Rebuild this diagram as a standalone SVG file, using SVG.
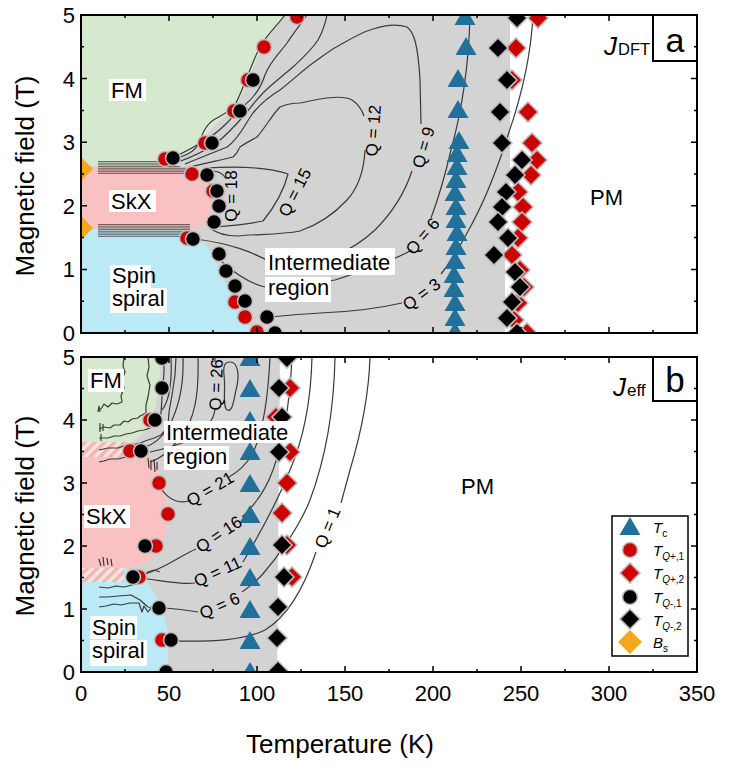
<svg xmlns="http://www.w3.org/2000/svg" width="747" height="779" viewBox="0 0 747 779">
<style>
text{font-family:"Liberation Sans",Arial,Helvetica,sans-serif;fill:#000}
.tk{font-size:22px}
.ttl{font-size:26px}
.lab{font-size:22px}
.q{font-size:17px;text-anchor:middle}
.ct{fill:none;stroke:#3a3a3a;stroke-width:1.2;stroke-linejoin:round}
.bd{fill:none;stroke:#4a4a4a;stroke-width:0.8}
.bx{fill:#fff}
.frame{fill:none;stroke:#000;stroke-width:2}
.tick{fill:none;stroke:#000;stroke-width:1.5}
.cr{fill:#cc0000;stroke:#bdbdbd;stroke-width:1.6}
.cb{fill:#000;stroke:#bdbdbd;stroke-width:1.6}
.tri{fill:#21709a}
.bs{fill:#f5a81c}
.gr{fill:#d3d3d3}
.fm{fill:#d6e9cf}
.sk{fill:#f9c1c1}
.sp{fill:#bce9f6}
</style>
<defs>
<circle id="c" r="7.5"/>
<path id="d" d="M0,-10L10,0L0,10L-10,0Z"/>
<path id="t" d="M0,-10L10.5,8L-10.5,8Z"/>
<clipPath id="ca"><rect x="81" y="15" width="616" height="318"/></clipPath>
<clipPath id="cbp"><rect x="81" y="357" width="616" height="315"/></clipPath>
<pattern id="h" width="7" height="7" patternUnits="userSpaceOnUse" patternTransform="rotate(45)"><rect width="7" height="7" fill="#f3e6e2"/><rect width="3.5" height="7" fill="#f6b3b3"/></pattern>
</defs>

<!-- ================= PANEL A ================= -->
<g id="panel-a-regions" clip-path="url(#ca)">
<path class="gr" d="M81,15 L510,15 L510,188 L505,188 L505,333 L81,333 Z"/>
<path id="a-fm" class="fm" d="M81,15 L284,15 C275,30 266,40 261,50 C253,66 246,88 238,102 C230,114 220,120 212,128 C204,138 198,148 185,156 C175,162 165,164 150,166 L81,166 Z"/>
<path id="a-skx" class="sk" d="M81,167 L172,167 C192,168 205,173 210,183 C214,196 214,212 208,222 C200,228 190,229 172,229 L81,229 Z"/>
<path id="a-spiral" class="sp" d="M81,229 L182,229 C196,233 206,243 213,256 C220,272 228,290 238,305 C244,316 248,325 252,333 L81,333 Z"/>
</g>

<g id="connectors-a" clip-path="url(#ca)">
<path class="ct" d="M533,15 C531,55 522,95 508,135 C497,170 483,205 467,233 C458,250 450,263 441,274 M402,303 C380,308 350,312 320,313 C300,314 283,316 268,317"/>
<path class="ct" d="M470,15 C469,60 462,110 451,150 C444,180 437,202 431,218 M412,250 C390,262 360,272 335,280 L300,285 L265,287 C252,284 238,276 222,262"/>
<path class="ct" d="M185,164 C200,158 215,152 227,147 C240,138 246,122 253,113 C262,102 270,96 280,90 C293,80 303,70 313,63 C323,56 330,50 340,45 C352,38 362,32 373,29 C385,25 398,24 407,27 C414,32 418,45 420,80 L421,124 M412,171 C405,192 392,213 375,230 C360,244 345,252 330,258 L267,260 C258,256 240,245 196,239"/>
<path class="ct" d="M190,167 C205,163 222,160 233,157 C238,153 238,150 240,147 C247,142 252,140 257,137 C265,128 272,115 280,107 C287,104 293,103 300,103 C310,101 318,99 327,98 C335,97 345,96 352,100 C358,104 362,110 364,116 M365,150 C364,170 358,188 347,200 C335,213 320,224 300,231 C280,235 255,234 238,236 C225,236 215,232 210,228"/>
<path class="ct" d="M206,168 C240,166 268,167 288,174 C284,190 276,205 263,221 C248,224 230,226 214,227"/>
<path class="ct" d="M212,171 C218,171 223,173 226,179"/>
<path class="ct" d="M285,15 C275,28 265,37 260,47 C252,62 245,85 236,103 C230,112 222,115 215,119 C205,125 202,135 199,143 C195,152 185,157 168,160"/>
<path class="ct" d="M307,15 C300,25 292,35 287,43 C278,55 270,62 265,75 C260,90 252,100 242,107 C235,113 232,118 227,123 C218,132 210,138 200,143 C190,150 180,154 168,160"/>
<path class="ct" d="M327,15 C325,25 322,33 318,40 C310,52 300,60 293,67 C280,78 270,86 263,93 C253,103 247,113 240,120 C230,131 222,140 213,145 C203,152 192,157 178,162"/>
<path class="bd" d="M98,161.5H168 M98,163.2H172 M98,164.9H176 M98,166.6H180 M98,168.3H186 M98,170H190 M98,171.7H195 M98,173.4H200"/>
<path class="bd" d="M98,224.5H190 M98,226.2H190 M98,227.9H190 M98,229.6H190 M98,231.3H192 M98,233H192 M98,234.7H192 M98,236.4H192"/>
</g>

<g id="markers-a" clip-path="url(#ca)">
<g class="cr">
<use href="#d" x="538" y="18"/><use href="#d" x="516" y="48"/><use href="#d" x="512" y="80"/><use href="#d" x="528" y="112"/><use href="#d" x="532" y="143"/><use href="#d" x="537" y="160"/><use href="#d" x="531" y="175"/><use href="#d" x="518" y="192"/><use href="#d" x="523" y="207"/><use href="#d" x="522" y="222"/><use href="#d" x="518" y="238"/><use href="#d" x="512" y="255"/><use href="#d" x="520" y="270"/><use href="#d" x="524" y="287"/><use href="#d" x="518" y="303"/><use href="#d" x="514" y="320"/><use href="#d" x="527" y="333"/>
</g>
<g class="cb">
<use href="#d" x="517" y="18"/><use href="#d" x="498" y="48"/><use href="#d" x="507" y="80"/><use href="#d" x="500" y="112"/><use href="#d" x="502" y="143"/><use href="#d" x="522" y="160"/><use href="#d" x="515" y="175"/><use href="#d" x="506" y="192"/><use href="#d" x="502" y="207"/><use href="#d" x="498" y="222"/><use href="#d" x="508" y="238"/><use href="#d" x="494" y="255"/><use href="#d" x="515" y="272"/><use href="#d" x="520" y="287"/><use href="#d" x="512" y="302"/><use href="#d" x="507" y="318"/><use href="#d" x="517" y="333"/>
</g>
<g class="cr">
<use href="#c" x="297" y="17"/><use href="#c" x="264" y="47"/><use href="#c" x="248" y="80"/><use href="#c" x="234" y="111"/><use href="#c" x="205" y="143"/><use href="#c" x="165" y="159"/><use href="#c" x="192" y="174"/><use href="#c" x="213" y="191"/><use href="#c" x="187" y="238"/><use href="#c" x="235" y="302"/><use href="#c" x="245" y="317"/><use href="#c" x="257" y="332"/>
</g>
<g class="cb">
<use href="#c" x="253" y="80"/><use href="#c" x="240" y="111"/><use href="#c" x="212" y="143"/><use href="#c" x="173" y="158"/><use href="#c" x="207" y="175"/><use href="#c" x="217" y="191"/><use href="#c" x="219" y="206"/><use href="#c" x="214" y="222"/><use href="#c" x="193" y="239"/><use href="#c" x="219" y="254"/><use href="#c" x="226" y="271"/><use href="#c" x="235" y="286"/><use href="#c" x="245" y="301"/><use href="#c" x="267" y="317"/><use href="#c" x="275" y="333"/>
</g>
<g class="tri">
<use href="#t" x="465" y="17"/><use href="#t" x="466" y="47"/><use href="#t" x="458" y="79"/><use href="#t" x="458" y="110"/><use href="#t" x="459" y="141"/><use href="#t" x="457" y="154"/><use href="#t" x="457" y="167"/><use href="#t" x="456" y="180"/><use href="#t" x="455" y="193"/><use href="#t" x="456" y="207"/><use href="#t" x="456" y="220"/><use href="#t" x="457" y="233"/><use href="#t" x="456" y="247"/><use href="#t" x="455" y="261"/><use href="#t" x="454" y="275"/><use href="#t" x="454" y="289"/><use href="#t" x="455" y="303"/><use href="#t" x="455" y="318"/><use href="#t" x="455" y="332"/>
</g>
<g class="bs">
<path d="M81,157 L93,169 L81,181 L69,169Z"/>
<path d="M81,216 L93,228 L81,240 L69,228Z"/>
</g>
</g>

<g id="labels-a">
<rect class="bx" x="109" y="79" width="37" height="22"/><text class="lab" x="111" y="98">FM</text>
<rect class="bx" x="109" y="190" width="47" height="22"/><text class="lab" x="111" y="209">SkX</text>
<rect class="bx" x="110" y="265" width="41" height="23"/><text class="lab" x="112" y="283">Spin</text>
<rect class="bx" x="110" y="288" width="57" height="25"/><text class="lab" x="112" y="306">spiral</text>
<rect class="bx" x="265" y="248" width="130" height="27"/><text class="lab" x="268" y="270">Intermediate</text>
<rect class="bx" x="265" y="277" width="66" height="25"/><text class="lab" x="268" y="295">region</text>
<text class="lab" x="590" y="205">PM</text>
<text class="q" transform="translate(237,196) rotate(-90)">Q = 18</text>
<text class="q" transform="translate(300,195) rotate(-63)">Q = 15</text>
<text class="q" transform="translate(379,131) rotate(-86)">Q = 12</text>
<text class="q" transform="translate(429,149) rotate(-74)">Q = 9</text>
<text class="q" transform="translate(427,240) rotate(-50)">Q = 6</text>
<text class="q" transform="translate(425,299) rotate(-36)">Q = 3</text>
<text x="604" y="55" style="font-size:26px;font-style:italic">J</text><text x="618" y="55" style="font-size:16.5px">DFT</text>
<rect x="653" y="15" width="44" height="46" fill="#fff" stroke="#000" stroke-width="2"/>
<text x="675" y="52" style="font-size:34px" text-anchor="middle">a</text>
</g>

<g id="axes-a">
<rect class="frame" x="81" y="15" width="616" height="318"/>
<path class="tick" d="M169,15v6M257,15v6M345,15v6M433,15v6M521,15v6M609,15v6M125,15v3M213,15v3M301,15v3M389,15v3M477,15v3M565,15v3M653,15v3
M169,333v-6M257,333v-6M345,333v-6M433,333v-6M521,333v-6M609,333v-6M125,333v-3M213,333v-3M301,333v-3M389,333v-3M477,333v-3M565,333v-3M653,333v-3
M81,269.4h6M81,205.8h6M81,142.2h6M81,78.6h6M81,301.2h3M81,237.6h3M81,174h3M81,110.4h3M81,46.8h3
M697,269.4h-6M697,205.8h-6M697,142.2h-6M697,78.6h-6M697,301.2h-3M697,237.6h-3M697,174h-3M697,110.4h-3M697,46.8h-3"/>
<g class="tk" text-anchor="end">
<text x="75" y="23">5</text><text x="75" y="86.6">4</text><text x="75" y="150.2">3</text><text x="75" y="213.8">2</text><text x="75" y="277.4">1</text><text x="75" y="341">0</text>
</g>
<text class="ttl" text-anchor="middle" transform="translate(34,176) rotate(-90)">Magnetic field (T)</text>
</g>

<!-- ================= PANEL B ================= -->
<g id="panel-b-regions" clip-path="url(#cbp)">
<path class="gr" d="M81,357 L280,357 L277,672 L81,672 Z"/>
<path id="b-fm" class="fm" d="M81,357 L161,357 C160,380 158,400 152,418 C147,430 140,438 132,442 L81,442 Z"/>
<rect x="81" y="442" width="52" height="15" fill="url(#h)"/>
<path id="b-skx" class="sk" d="M81,457 L133,457 L133,442 C140,442 148,448 152,458 C160,470 166,490 168,510 C168,528 163,545 152,558 C145,565 135,568 124,568 L81,568 Z"/>
<rect x="81" y="568" width="43" height="14" fill="url(#h)"/>
<path id="b-spiral" class="sp" d="M81,582 L124,582 L124,568 C135,570 145,578 152,590 C160,603 166,618 168,635 L168,672 L81,672 Z"/>
</g>

<g id="connectors-b" clip-path="url(#cbp)">
<path class="ct" d="M370,357 C369,390 362,430 350,470 L341,503 M316,552 C305,585 290,615 265,630 C245,640 215,642 171,641"/>
<path class="ct" d="M335,357 C334,410 325,460 310,500 C298,530 275,560 262,575 C255,582 248,588 242,592 M198,612 C185,610 172,608 160,608"/>
<path class="ct" d="M312,357 C311,400 303,440 290,470 C280,495 262,530 243,562 M195,583 C180,585 160,580 140,578"/>
<path class="ct" d="M292,357 C290,400 284,440 273,470 C265,492 255,505 242,517 M196,549 C180,556 165,568 145,574"/>
<path class="ct" d="M270,357 C268,400 262,435 252,455 C245,466 238,472 229,477 M191,500 C180,505 168,500 160,487"/>
<path class="ct" d="M215,357 L215,362 M215,409 C214,420 205,432 190,440 C175,446 160,450 150,452"/>
<path class="ct" d="M230,362 C238,362 240,375 236,390 C233,405 232,412 227,410 C222,405 226,390 224,375 C223,365 225,362 230,362Z"/>
<path class="ct" d="M171,357 C172,380 170,400 162,410 M183,357 C184,385 178,410 168,428 C160,440 152,445 145,447 M198,357 C199,395 195,420 180,438 C170,450 162,458 150,462"/>
<path class="ct" d="M124,357 L123,366 L125,372 L122,380 L124,388 L121,396 L122,402 L117,404 L112,403 L108,407 L104,404 L101,409 L98,410 M98,412 L99,406 L100,412"/>
<path class="ct" d="M148,357 L149,367 L147,376 L150,385 L148,397 L146,405 L146,413 L140,416 L138,418 L132,419 L128,422 L124,421 L120,425 L114,425 L110,428 L104,427 L99,429 M100,423 L100,432 M103,424 L103,431"/>
<path class="ct" d="M164,357 L164,372 L163,385 L162,398 L161,413 L158,423 L150,428 L144,430 L138,431 L132,433 L126,434 L120,436 L114,436 L108,438 L99,438 M101,434 L101,441"/>
<path class="ct" d="M176,357 L175,375 L172,395 L169,412 L168,427 L161,435 L154,438 L148,440 L140,443 L132,445 L124,446 L118,448 L108,448 L99,450"/>
<path class="ct" d="M141,451 L134,456 L126,457 L118,459 L110,459 L104,461 L99,462 M148,458 L149,468 M151,460 L151,470 M154,459 L155,472 M157,462 L157,470"/>
<path class="ct" d="M99,559 L101,566 M103,557 L104,566 M107,558 L108,565 M111,559 L112,566"/>
<path class="ct" d="M99,587 L108,588 L116,586 L124,587 L132,585 L141,583 M99,597 L108,597 L118,596 L131,595 L140,600 L148,607 L158,608 M99,607 L106,606 L114,604 L121,605 L130,603 L139,603 L142,612 L144,606 L148,612 L151,608"/>
<path class="ct" d="M141,578 L148,572 L154,570 L160,572"/>
</g>

<g id="markers-b" clip-path="url(#cbp)">
<g class="cr">
<use href="#d" x="290" y="388"/><use href="#d" x="276" y="417"/><use href="#d" x="290" y="452"/><use href="#d" x="287" y="483"/><use href="#d" x="282" y="513"/><use href="#d" x="287" y="545"/><use href="#d" x="292" y="577"/>
</g>
<g class="cb">
<use href="#d" x="287" y="358"/><use href="#d" x="279" y="388"/><use href="#d" x="282" y="417"/><use href="#d" x="279" y="452"/><use href="#d" x="282" y="545"/><use href="#d" x="284" y="577"/><use href="#d" x="278" y="607"/><use href="#d" x="277" y="638"/><use href="#d" x="278" y="671"/>
</g>
<g class="cr">
<use href="#c" x="150" y="420"/><use href="#c" x="130" y="451"/><use href="#c" x="159" y="483"/><use href="#c" x="168" y="514"/><use href="#c" x="156" y="546"/><use href="#c" x="139" y="577"/><use href="#c" x="162" y="640"/>
</g>
<g class="cb">
<use href="#c" x="162" y="358"/><use href="#c" x="162" y="388"/><use href="#c" x="155" y="420"/><use href="#c" x="141" y="451"/><use href="#c" x="145" y="546"/><use href="#c" x="133" y="577"/><use href="#c" x="159" y="608"/><use href="#c" x="171" y="640"/><use href="#c" x="166" y="672"/>
</g>
<g class="tri">
<use href="#t" x="250" y="358"/><use href="#t" x="250" y="389"/><use href="#t" x="250" y="421"/><use href="#t" x="250" y="452"/><use href="#t" x="250" y="484"/><use href="#t" x="250" y="515"/><use href="#t" x="250" y="547"/><use href="#t" x="250" y="578"/><use href="#t" x="250" y="610"/><use href="#t" x="250" y="641"/><use href="#t" x="250" y="672"/>
</g>
</g>

<g id="labels-b">
<rect class="bx" x="88" y="369" width="36" height="23"/><text class="lab" x="90" y="388">FM</text>
<rect class="bx" x="164" y="421" width="127" height="22"/><text class="lab" x="166" y="440">Intermediate</text>
<rect class="bx" x="164" y="446" width="65" height="24"/><text class="lab" x="166" y="464">region</text>
<rect class="bx" x="84" y="505" width="46" height="23"/><text class="lab" x="86" y="524">SkX</text>
<rect class="bx" x="90" y="616" width="47" height="23"/><text class="lab" x="92" y="635">Spin</text>
<rect class="bx" x="90" y="640" width="57" height="26"/><text class="lab" x="92" y="658">spiral</text>
<text class="lab" x="461" y="494">PM</text>
<text class="q" transform="translate(222,385) rotate(-88)">Q = 26</text>
<text class="q" transform="translate(213,494) rotate(-30)">Q = 21</text>
<text class="q" transform="translate(222,539) rotate(-34)">Q = 16</text>
<text class="q" transform="translate(220,577) rotate(-25)">Q = 11</text>
<text class="q" transform="translate(222,611) rotate(-24)">Q = 6</text>
<text class="q" transform="translate(333,530) rotate(-68)">Q = 1</text>
<text x="613" y="396" style="font-size:26px;font-style:italic">J</text><text x="627" y="396" style="font-size:17px">eff</text>
<rect x="653" y="357" width="44" height="44" fill="#fff" stroke="#000" stroke-width="2"/>
<text x="675" y="392" style="font-size:35px" text-anchor="middle">b</text>
</g>

<g id="legend">
<rect x="612" y="516" width="76" height="140" fill="#fff" stroke="#000" stroke-width="1.5"/>
<use href="#t" x="630" y="527" class="tri"/>
<use href="#c" x="630" y="550" class="cr"/>
<use href="#d" x="630" y="573" class="cr"/>
<use href="#c" x="630" y="597" class="cb"/>
<use href="#d" x="630" y="619" class="cb"/>
<path class="bs" d="M630,630 L642,642 L630,654 L618,642Z"/>
<g style="font-size:15px">
<text x="653" y="533"><tspan font-style="italic">T</tspan><tspan font-size="10" dy="4">c</tspan></text>
<text x="653" y="556"><tspan font-style="italic">T</tspan><tspan font-size="10" dy="4" font-style="italic">Q</tspan><tspan font-size="10">+,1</tspan></text>
<text x="653" y="579"><tspan font-style="italic">T</tspan><tspan font-size="10" dy="4" font-style="italic">Q</tspan><tspan font-size="10">+,2</tspan></text>
<text x="653" y="603"><tspan font-style="italic">T</tspan><tspan font-size="10" dy="4" font-style="italic">Q</tspan><tspan font-size="10">-,1</tspan></text>
<text x="653" y="626"><tspan font-style="italic">T</tspan><tspan font-size="10" dy="4" font-style="italic">Q</tspan><tspan font-size="10">-,2</tspan></text>
<text x="653" y="648"><tspan font-style="italic">B</tspan><tspan font-size="10" dy="4">s</tspan></text>
</g>
</g>

<g id="axes-b">
<rect class="frame" x="81" y="357" width="616" height="315"/>
<path class="tick" d="M169,357v6M257,357v6M345,357v6M433,357v6M521,357v6M609,357v6M125,357v3M213,357v3M301,357v3M389,357v3M477,357v3M565,357v3M653,357v3
M169,672v-6M257,672v-6M345,672v-6M433,672v-6M521,672v-6M609,672v-6M125,672v-3M213,672v-3M301,672v-3M389,672v-3M477,672v-3M565,672v-3M653,672v-3
M81,609h6M81,546h6M81,483h6M81,420h6M81,640.5h3M81,577.5h3M81,514.5h3M81,451.5h3M81,388.5h3
M697,609h-6M697,546h-6M697,483h-6M697,420h-6M697,640.5h-3M697,577.5h-3M697,514.5h-3M697,451.5h-3M697,388.5h-3"/>
<g class="tk" text-anchor="end">
<text x="75" y="365">5</text><text x="75" y="428">4</text><text x="75" y="491">3</text><text x="75" y="554">2</text><text x="75" y="617">1</text><text x="75" y="680">0</text>
</g>
<g class="tk" text-anchor="middle">
<text x="81" y="701">0</text><text x="169" y="701">50</text><text x="257" y="701">100</text><text x="345" y="701">150</text><text x="433" y="701">200</text><text x="521" y="701">250</text><text x="609" y="701">300</text><text x="697" y="701">350</text>
</g>
<text class="ttl" text-anchor="middle" transform="translate(34,516) rotate(-90)">Magnetic field (T)</text>
<text class="ttl" text-anchor="middle" x="340" y="753">Temperature (K)</text>
</g>
</svg>
